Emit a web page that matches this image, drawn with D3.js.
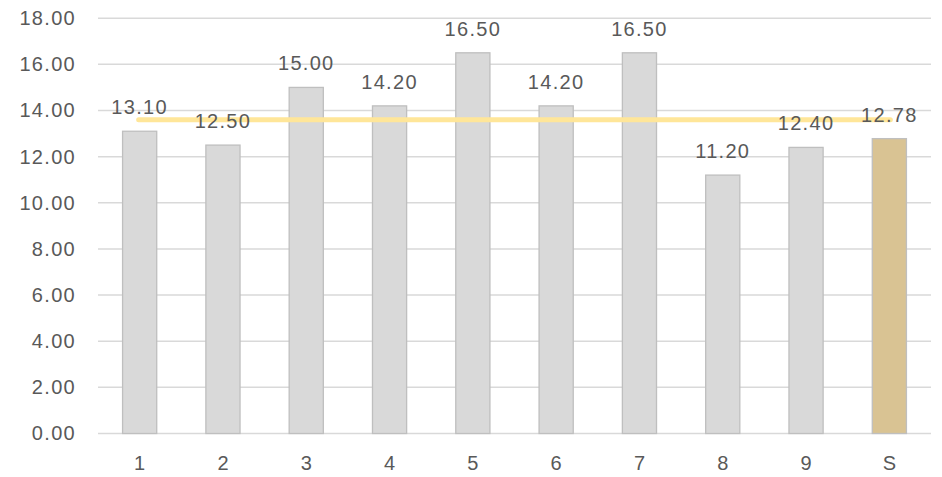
<!DOCTYPE html>
<html><head><meta charset="utf-8">
<script src="https://cdn.jsdelivr.net/npm/d3@7"></script>
<style>
html,body{margin:0;padding:0;background:#fff;}
svg text{font-family:"Liberation Sans",Arial,sans-serif;fill:#595959;}
</style></head>
<body><svg id="c" width="942" height="477"></svg>
<script>
const categories = ["1","2","3","4","5","6","7","8","9","S"];
const values = [13.10,12.50,15.00,14.20,16.50,14.20,16.50,11.20,12.40,12.78];
const averageValue = [13.6];
const yTicks = [0,2,4,6,8,10,12,14,16,18];

const svg = d3.select("#c");
const mLeft = 98, mRight = 931, mTop = 18.2, mBottom = 433.5;
const x = d3.scaleBand().domain(categories).range([mLeft,mRight]).paddingInner(0.59).paddingOuter(0.295);
const y = d3.scaleLinear().domain([0,18]).range([mBottom,mTop]);

// gridlines
svg.append("g").selectAll("line").data(yTicks).join("line")
  .attr("x1",mLeft).attr("x2",mRight)
  .attr("y1",d=>y(d)).attr("y2",d=>y(d))
  .attr("stroke","#d9d9d9").attr("stroke-width",1.5);

// y axis labels
const yAxis = svg.append("g").attr("transform",`translate(${mLeft},0)`)
  .call(d3.axisLeft(y).tickValues(yTicks).tickFormat(d3.format(".2f")).tickSize(0).tickPadding(22));
yAxis.select(".domain").remove();
yAxis.selectAll("text").style("font-size","20px").style("letter-spacing","1.3px").attr("fill","#595959");

// x axis labels
const xAxis = svg.append("g").attr("transform",`translate(0,${mBottom})`)
  .call(d3.axisBottom(x).tickSize(0).tickPadding(22));
xAxis.select(".domain").remove();
xAxis.selectAll("text").style("font-size","20px").attr("fill","#595959");

// bars
svg.append("g").selectAll("rect").data(values).join("rect")
  .attr("x",(d,i)=>x(categories[i]))
  .attr("width",x.bandwidth())
  .attr("y",d=>y(d))
  .attr("height",d=>y(0)-y(d))
  .attr("fill",(d,i)=>categories[i]==="S"?"#d9c393":"#d9d9d9")
  .attr("stroke","#bfbfbf")
  .attr("stroke-width",1.3);

// average line
const cx = c => x(c)+x.bandwidth()/2;
svg.append("line")
  .attr("x1",cx(categories[0])-1).attr("x2",cx(categories[categories.length-1])+1)
  .attr("y1",y(averageValue[0])).attr("y2",y(averageValue[0]))
  .attr("stroke","#ffe699").attr("stroke-width",5).attr("stroke-linecap","round");

// data labels
svg.append("g").selectAll("text").data(values).join("text")
  .attr("x",(d,i)=>cx(categories[i]))
  .attr("y",d=>y(d)-24)
  .attr("dy","0.35em")
  .attr("text-anchor","middle")
  .style("font-size","20px").style("letter-spacing","1.3px")
  .text(d=>d.toFixed(2));
</script></body></html>
